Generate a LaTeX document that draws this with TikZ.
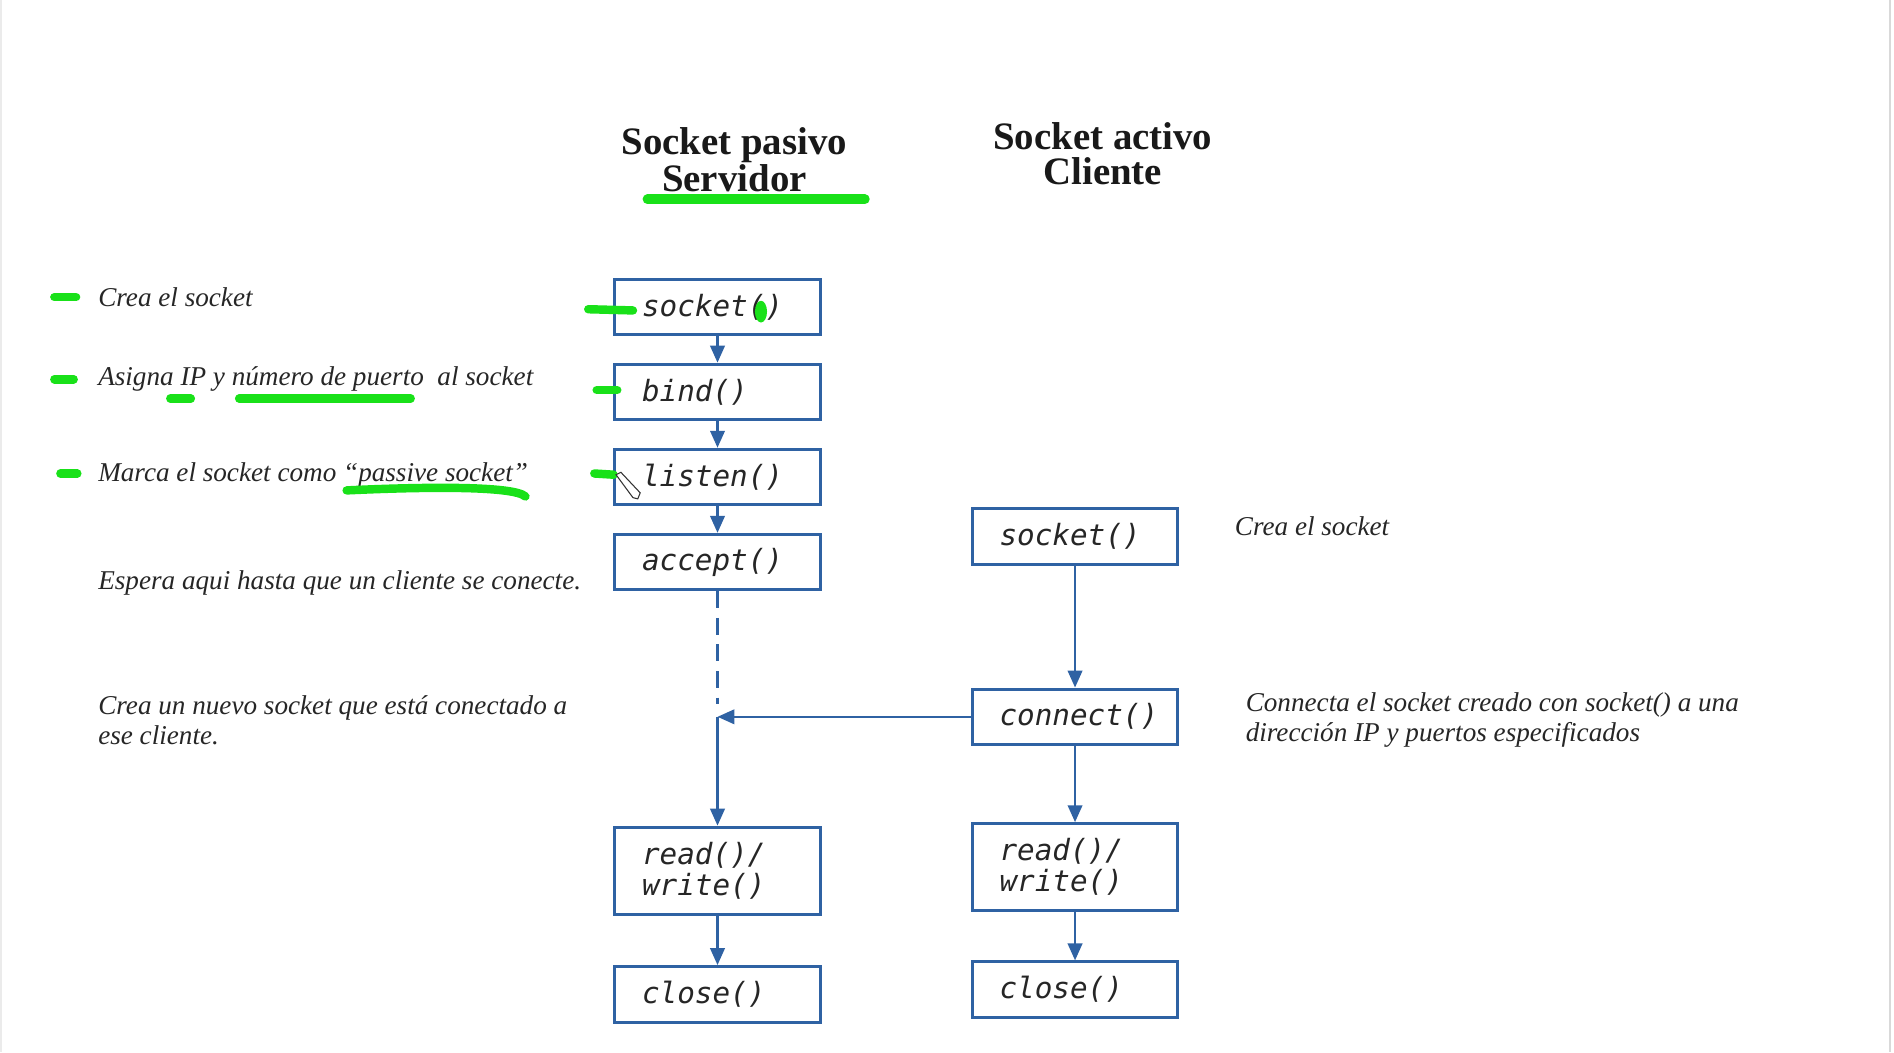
\documentclass[tikz,border=0pt]{standalone}
\usepackage{fontspec}
\setmainfont{Liberation Serif}
\newfontfamily\codefont{DejaVu Sans Mono}
\usetikzlibrary{arrows.meta, positioning}
\definecolor{boxblue}{RGB}{47,98,163}
\definecolor{hlgreen}{RGB}{25,225,25}

\begin{document}
\begin{tikzpicture} [
        x = 0.02cm, y = -0.02cm,
        node distance = 0.44cm,
        func/.style = {draw=boxblue, line width=1.4pt, text width=2.5cm, align=left, inner xsep=0.45cm, minimum height=0.92cm, text=black!85, font=\codefont\itshape\fontsize{13.8}{14.7}\selectfont},
        rw/.style = {func, minimum height=1.44cm},
        flow/.style = {draw=boxblue, line width=1.1pt, -{Triangle[length=0.28cm, width=0.24cm]}},
        note/.style = {anchor=west, inner sep=0pt, align=left, text=black!85, font=\itshape\fontsize{12.8}{14.2}\selectfont},
        head/.style = {align=center, text=black!90, font=\bfseries\fontsize{18.3}{16.5}\selectfont},
        hilite/.style = {draw=hlgreen, line width=0.14cm, line cap=round}
    ]
    \useasboundingbox (0,0) rectangle (1568,871);
    \draw[black!8, line width=1pt] (1,0) -- (1,871);
    \draw[black!15, line width=1pt] (1565,0) -- (1565,871);

    \node[head] (srv) at (608,132) {Socket pasivo\\Servidor};
    \node[head] (cli) at (913,127) {Socket activo\\Cliente};

    % servidor
    \node[func] (sock1) at (594,254) {socket()};
    \node[func, below=of sock1]       (bind)   {bind()};
    \node[func, below=of bind]        (listen) {listen()};
    \node[func, below=of listen]      (accept) {accept()};
    \node[rw,   below=3.88cm of accept] (rw1)    {read()/\\write()};
    \node[func, below=0.82cm of rw1]  (close1) {close()};

    % cliente
    \node[func] (sock2) at (890,444) {socket()};
    \node[func, below=2.02cm of sock2]   (connect) {connect()};
    \node[rw,   below=1.26cm of connect] (rw2)     {read()/\\write()};
    \node[func, below=0.8cm of rw2]      (close2)  {close()};

    \foreach \a/\b in {sock1/bind, bind/listen, listen/accept, rw1/close1, sock2/connect, connect/rw2, rw2/close2}
        \draw[flow] (\a) -- (\b);

    \coordinate (meet) at (accept.south |- connect.west);
    \draw[boxblue, line width=1.1pt, dash pattern=on 0.28cm off 0.16cm, shorten >=0.22cm] (accept) -- (meet);
    \draw[flow] (meet) -- (rw1);
    \draw[flow] (connect) -- (meet);

    \node[note] (n1) at (81,246) {Crea el socket};
    \node[note] (n2) at (81,314) {Asigna IP y número de puerto\ \ al socket};
    \node[note] (n3) at (81,393) {Marca el socket como “passive socket”};
    \node[note] (n4) at (81,483) {Espera aqui hasta que un cliente se conecte.};
    \node[note] (n5) at (81,596) {Crea un nuevo socket que está conectado a\\ese cliente.};
    \node[note] (n6) at (1022,436) {Crea el socket};
    \node[note] (n7) at (1031,596) {Connecta el socket creado con socket() a una\\dirección IP y puertos especificados};

    % resaltado
    \draw[hilite, line width=0.16cm] (536,165) -- (716,165);
    \draw[hilite] (45,246) -- (63,246);
    \draw[hilite] (45,314) -- (61,314);
    \draw[hilite] (50,392) -- (64,392);
    \draw[hilite] (141,330) -- (158,330);
    \draw[hilite] (198,330) -- (340,330);
    \draw[hilite] (287,406) .. controls (350,403) and (425,402) .. (435,411);
    \draw[hilite] (487,256) -- (524,257);
    \draw[hilite] (494,323) -- (511,323);
    \draw[hilite] (492,392) -- (508,393);
    \fill[hlgreen] (630,258) ellipse [x radius=0.1cm, y radius=0.18cm];

    \draw[black!80, fill=white, line width=0.5pt] (510,393) -- (514,391) -- (530,408) -- (528,413) -- (524,412) -- cycle;
\end{tikzpicture}
\end{document}
